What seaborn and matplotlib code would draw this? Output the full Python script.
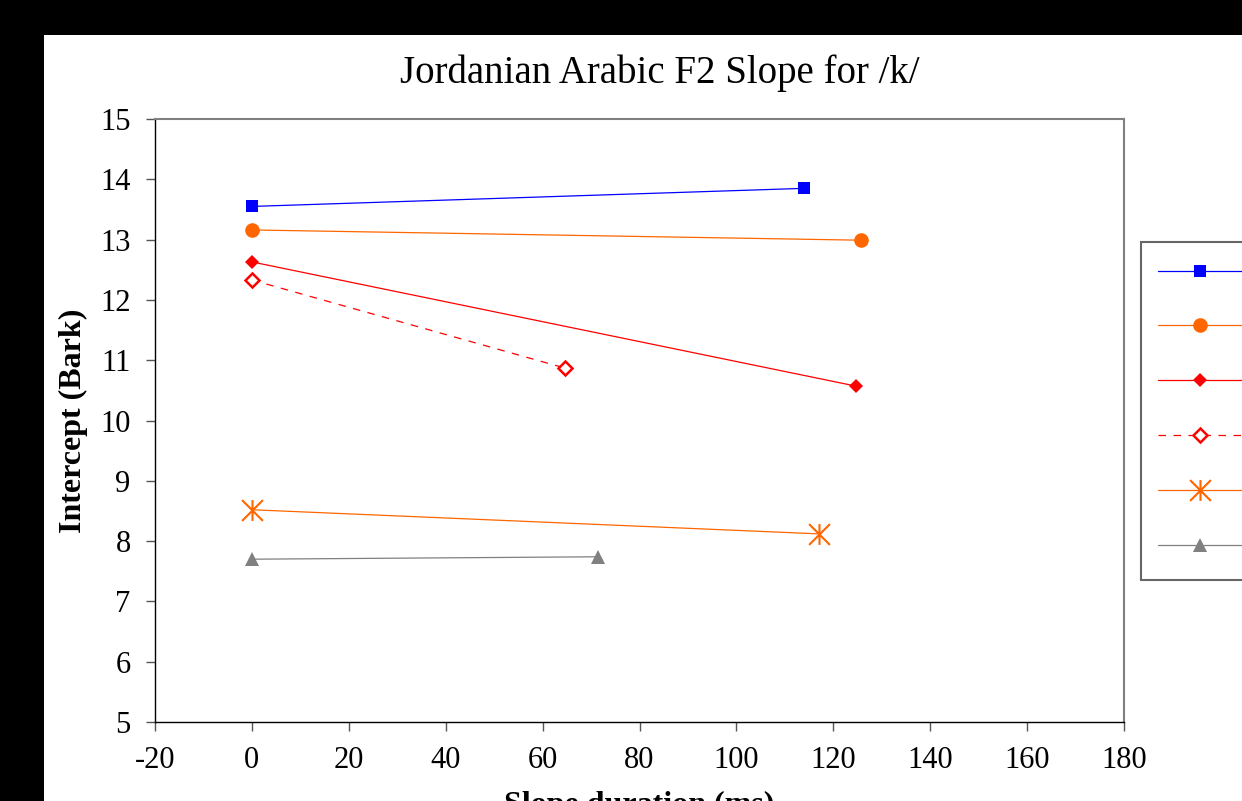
import matplotlib
matplotlib.use("Agg")
import matplotlib.pyplot as plt
from matplotlib.patches import Rectangle
from matplotlib.path import Path
import seaborn as sns

# F2 slope data for /k/ (onset = 0 ms, end of slope)
blue_x = [0, 114]
blue_y = [13.55, 13.85]
orange_x = [0, 125.7]
orange_y = [13.16, 12.99]
red_x = [0, 124.7]
red_y = [12.63, 10.57]
red_open_x = [0, 64.6]
red_open_y = [12.33, 10.87]
star_x = [0, 117]
star_y = [8.52, 8.12]
gray_x = [0, 71.4]
gray_y = [7.70, 7.74]

x_ticks = list(range(-20, 181, 20))
y_ticks = list(range(5, 16))

sns.set_theme(style="white")
plt.rcParams["font.family"] = ["Liberation Serif", "DejaVu Serif"]
plt.rcParams["text.color"] = "black"
plt.rcParams["axes.labelcolor"] = "black"
plt.rcParams["axes.unicode_minus"] = False

W, H = 1242, 801
fig = plt.figure(figsize=(W / 100, H / 100), dpi=100)
fig.set_facecolor("black")
fig.patches.append(Rectangle((44 / W, 0), 1 - 44 / W, 1 - 35 / H,
                             transform=fig.transFigure, facecolor="white",
                             edgecolor="none", zorder=-10))

ax = fig.add_axes([155 / W, 1 - 722 / H, (1124 - 155) / W, (722 - 119) / H])
ax.set_zorder(2)
ax.set_facecolor("white")

# excel style asterisk: X plus a vertical bar
star = Path([(0, -1), (0, 1), (-1, -1), (1, 1), (-1, 1), (1, -1)],
            [Path.MOVETO, Path.LINETO, Path.MOVETO, Path.LINETO, Path.MOVETO, Path.LINETO])

series = [
    (blue_x, blue_y, dict(color="#0000FF", marker="s", markersize=8.5, linestyle="-")),
    (orange_x, orange_y, dict(color="#FF6600", marker="o", markersize=10.5, linestyle="-")),
    (red_x, red_y, dict(color="#FF0000", marker="D", markersize=7.5, linestyle="-")),
    (red_open_x, red_open_y, dict(color="#FF0000", marker="D", markersize=7, linestyle=(0, (6, 6)),
                                  markerfacecolor="white", markeredgecolor="#FF0000", markeredgewidth=1.8)),
    (star_x, star_y, dict(color="#FF6600", marker=star, markersize=15, markeredgewidth=1.5,
                          markeredgecolor="#FF6600", linestyle="-")),
    (gray_x, gray_y, dict(color="#808080", marker="^", markersize=10, linestyle="-")),
]

for xs, ys, kw in series:
    style = dict(linewidth=0.9, markeredgewidth=0)
    style.update(kw)
    sns.lineplot(x=xs, y=ys, ax=ax, estimator=None, sort=False, **style)

ax.set_xlim(-20, 180)
ax.set_ylim(5, 15)
ax.set_xticks(x_ticks)
ax.set_yticks(y_ticks)
ax.tick_params(axis="both", direction="out", length=6.5, width=1, color="#555555",
               labelsize=22, pad=11, labelcolor="black")
ax.tick_params(axis="x", bottom=True)
ax.tick_params(axis="y", left=True)

for side in ["top", "right"]:
    ax.spines[side].set_color("#808080")
    ax.spines[side].set_linewidth(1.5)
for side in ["left", "bottom"]:
    ax.spines[side].set_color("black")
    ax.spines[side].set_linewidth(1)

ax.set_ylabel("Intercept (Bark)", fontsize=23, fontweight="bold", labelpad=9)
ax.set_xlabel("Slope duration (ms)", fontsize=23, fontweight="bold", labelpad=11)

fig.text(660 / W, 1 - 73 / H, "Jordanian Arabic F2 Slope for /k/",
         ha="center", va="center", fontsize=28)

handles = ax.get_lines()
leg = fig.legend(handles, [""] * len(handles), loc="upper left",
                 bbox_to_anchor=(1141 / W, 1 - 242 / H), borderaxespad=0,
                 fontsize=24, handlelength=2.55, borderpad=0.5, labelspacing=0.73,
                 handletextpad=1.5, fancybox=False, frameon=True)
leg.get_frame().set_edgecolor("#404040")
leg.get_frame().set_linewidth(1.5)
leg.get_frame().set_facecolor("white")
leg.set_zorder(3)

fig.savefig("out.png", dpi=100, facecolor=fig.get_facecolor())
